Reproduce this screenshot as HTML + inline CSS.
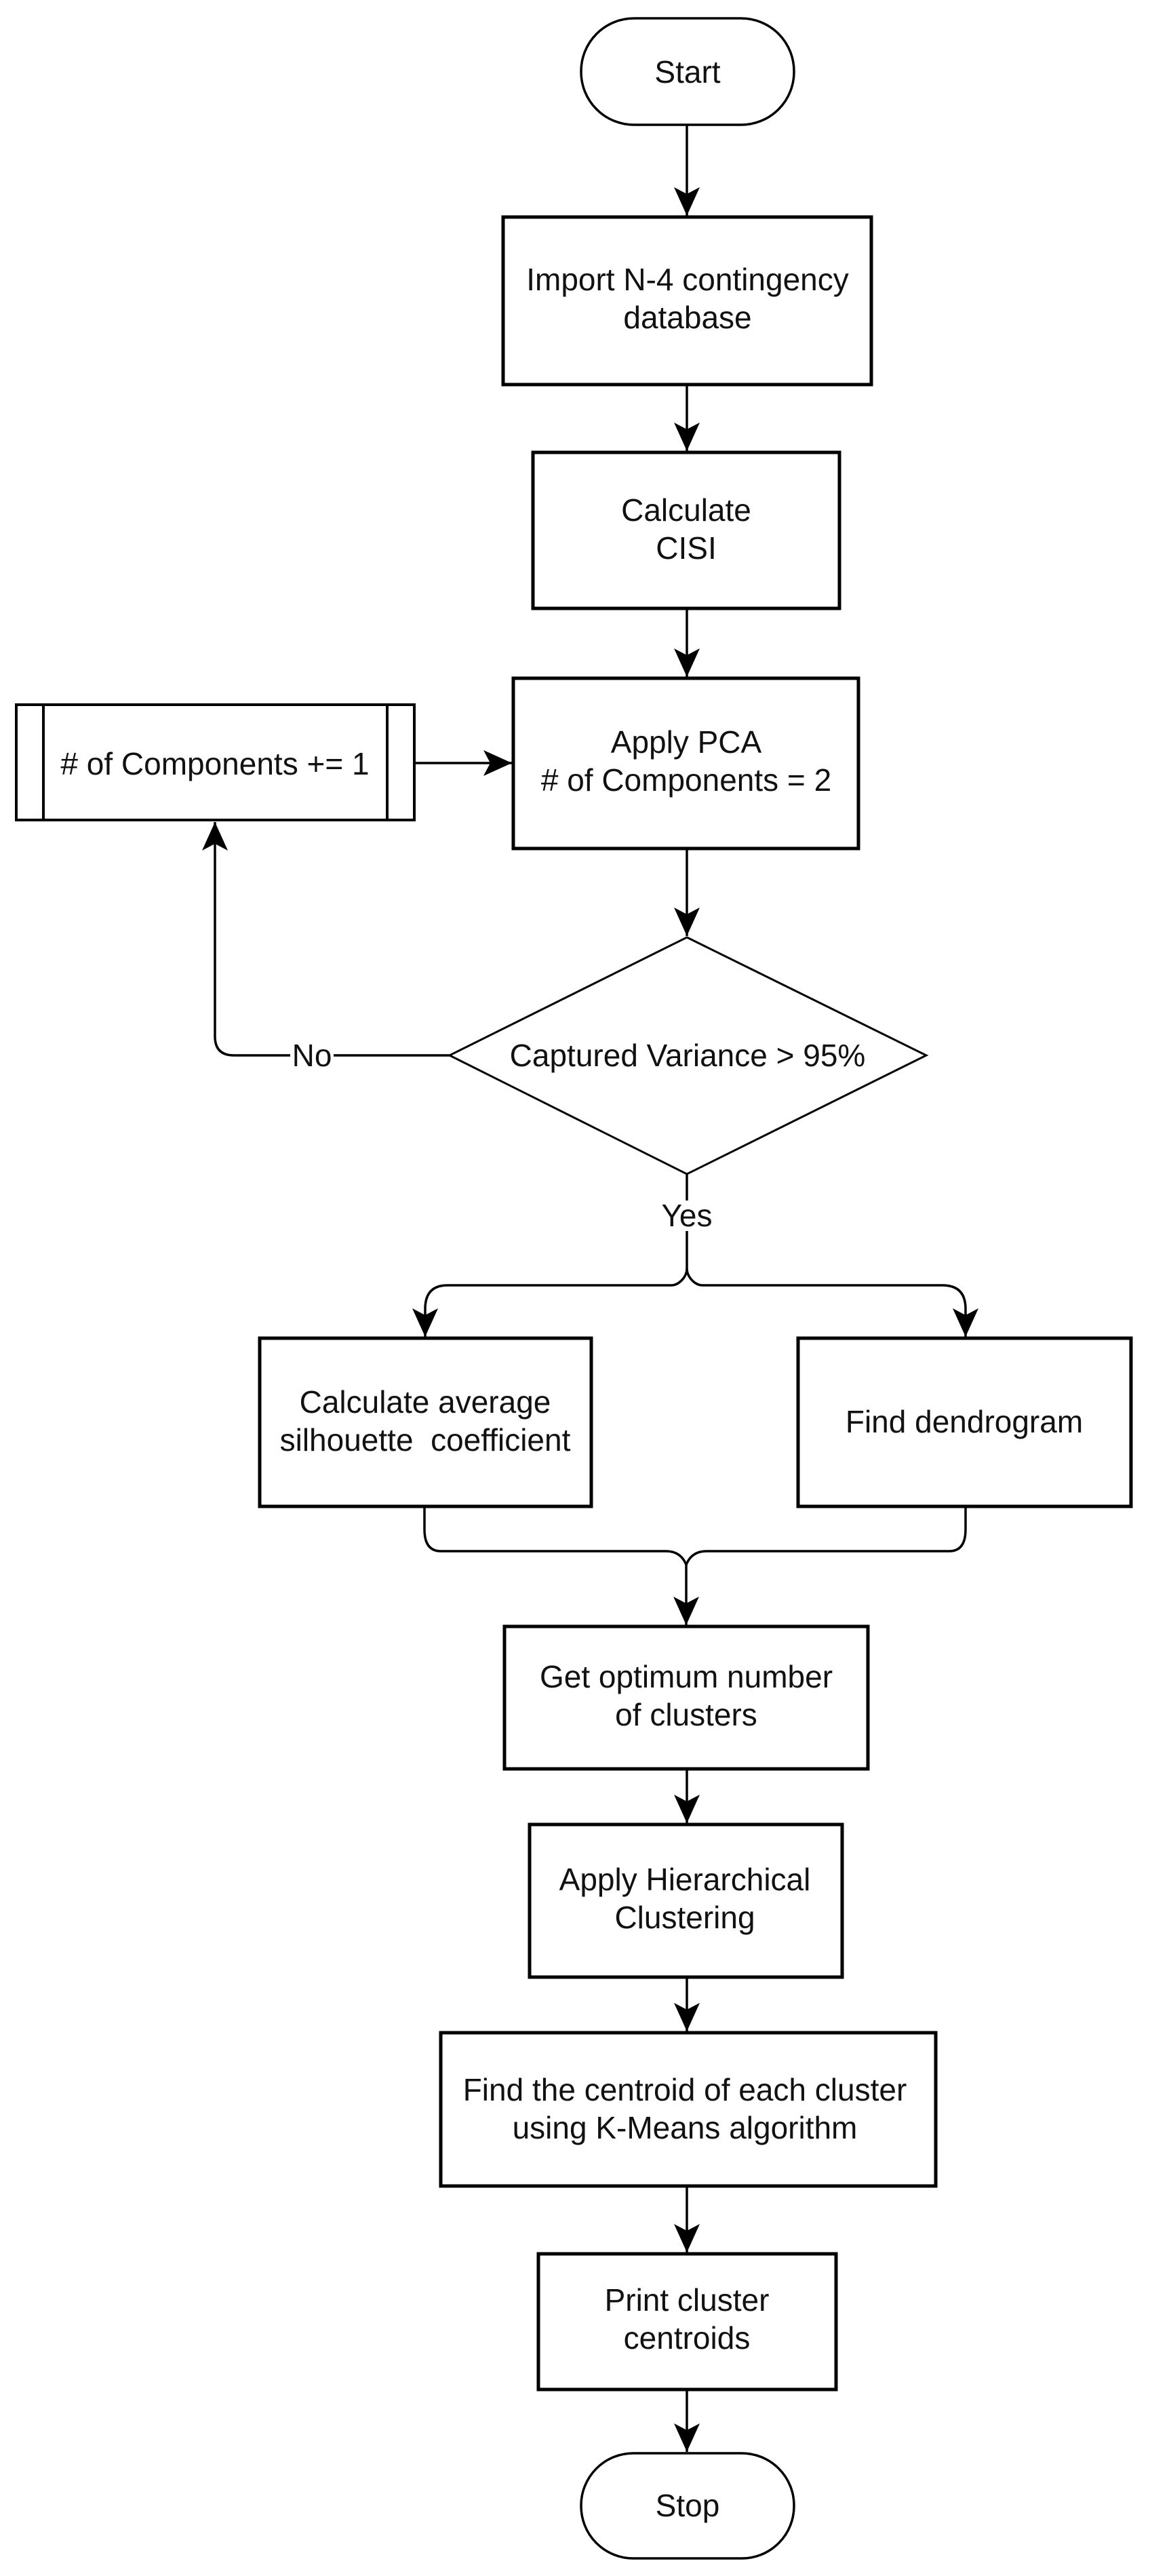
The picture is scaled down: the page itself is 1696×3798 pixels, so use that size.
<!DOCTYPE html>
<html><head><meta charset="utf-8"><style>
html,body{margin:0;padding:0;background:#fff;}
svg{display:block;}
text{font-family:"Liberation Sans",Arial,sans-serif;font-size:46px;fill:#111;text-anchor:middle;}
</style></head><body>
<svg width="1696" height="3798" viewBox="0 0 1696 3798" xmlns="http://www.w3.org/2000/svg">
<defs>
<marker id="ah" markerUnits="userSpaceOnUse" markerWidth="44" markerHeight="44" refX="42" refY="19" orient="auto">
<path d="M0,0 L42,19 L0,38 L10,19 Z" fill="#000"/>
</marker>
</defs>
<g fill="#fff" stroke="#000" stroke-width="5">
<rect x="857" y="27" width="314" height="157" rx="78" ry="78" stroke-width="3.5"/>
<rect x="742" y="320" width="543" height="247"/>
<rect x="786" y="667" width="452" height="230"/>
<rect x="757" y="1000" width="509" height="251"/>
<rect x="24" y="1039" width="587" height="170" stroke-width="4"/>
<line x1="64" y1="1039" x2="64" y2="1209" stroke-width="4"/>
<line x1="571" y1="1039" x2="571" y2="1209" stroke-width="4"/>
<polygon points="1013,1382 1366,1556 1013,1731 663,1556" stroke-width="3"/>
<rect x="383" y="1973" width="489" height="248"/>
<rect x="1177" y="1973" width="491" height="248"/>
<rect x="744" y="2398" width="536" height="210"/>
<rect x="781" y="2690" width="461" height="225"/>
<rect x="650" y="2997" width="730" height="226"/>
<rect x="794" y="3323" width="439" height="200"/>
<rect x="857" y="3617" width="314" height="155" rx="77" ry="77" stroke-width="3.5"/>
</g>
<g fill="none" stroke="#000" stroke-width="3.5">
<line x1="1013" y1="184" x2="1013" y2="318" marker-end="url(#ah)"/>
<line x1="1013" y1="567" x2="1013" y2="665" marker-end="url(#ah)"/>
<line x1="1013" y1="897" x2="1013" y2="998" marker-end="url(#ah)"/>
<line x1="611" y1="1125" x2="755" y2="1125" marker-end="url(#ah)"/>
<line x1="1013" y1="1251" x2="1013" y2="1380" marker-end="url(#ah)"/>
<line x1="663" y1="1556" x2="492" y2="1556"/>
<path d="M428,1556 L345,1556 Q317,1556 317,1528 L317,1212" marker-end="url(#ah)"/>
<line x1="1013" y1="1731" x2="1013" y2="1770"/>
<path d="M1013,1815 L1013,1870 Q1013,1880 1005,1888 Q998,1895 990,1895 L660,1895 Q627,1895 627,1930 L627,1971" marker-end="url(#ah)"/>
<path d="M1013,1870 Q1013,1880 1021,1888 Q1028,1895 1036,1895 L1390,1895 Q1424,1895 1424,1930 L1424,1971" marker-end="url(#ah)"/>
<path d="M626,2221 L626,2255 Q626,2287 650,2287 L982,2287 Q1004,2287 1012,2307 Q1020,2287 1042,2287 L1400,2287 Q1424,2287 1424,2255 L1424,2221"/>
<line x1="1012" y1="2307" x2="1012" y2="2396" marker-end="url(#ah)"/>
<line x1="1013" y1="2608" x2="1013" y2="2688" marker-end="url(#ah)"/>
<line x1="1013" y1="2915" x2="1013" y2="2995" marker-end="url(#ah)"/>
<line x1="1013" y1="3223" x2="1013" y2="3321" marker-end="url(#ah)"/>
<line x1="1013" y1="3523" x2="1013" y2="3615" marker-end="url(#ah)"/>
</g>
<text x="1014" y="122">Start</text>
<text x="1014" y="428">Import N-4 contingency</text>
<text x="1014" y="484">database</text>
<text x="1012" y="768">Calculate</text>
<text x="1012" y="824">CISI</text>
<text x="1012" y="1110">Apply PCA</text>
<text x="1012" y="1166">#&#160;of Components = 2</text>
<text x="317" y="1142"># of Components += 1</text>
<text x="1014" y="1572">Captured Variance &gt; 95%</text>
<text x="460" y="1572">No</text>
<text x="1013" y="1808">Yes</text>
<text x="627" y="2083">Calculate average</text>
<text x="627" y="2139">silhouette&#160; coefficient</text>
<text x="1422" y="2112">Find dendrogram</text>
<text x="1012" y="2488">Get optimum number</text>
<text x="1012" y="2544">of clusters</text>
<text x="1010" y="2787">Apply Hierarchical</text>
<text x="1010" y="2843">Clustering</text>
<text x="1010" y="3097">Find the centroid of each cluster</text>
<text x="1010" y="3153">using K-Means algorithm</text>
<text x="1013" y="3407">Print cluster</text>
<text x="1013" y="3463">centroids</text>
<text x="1014" y="3710">Stop</text>
</svg>
</body></html>
